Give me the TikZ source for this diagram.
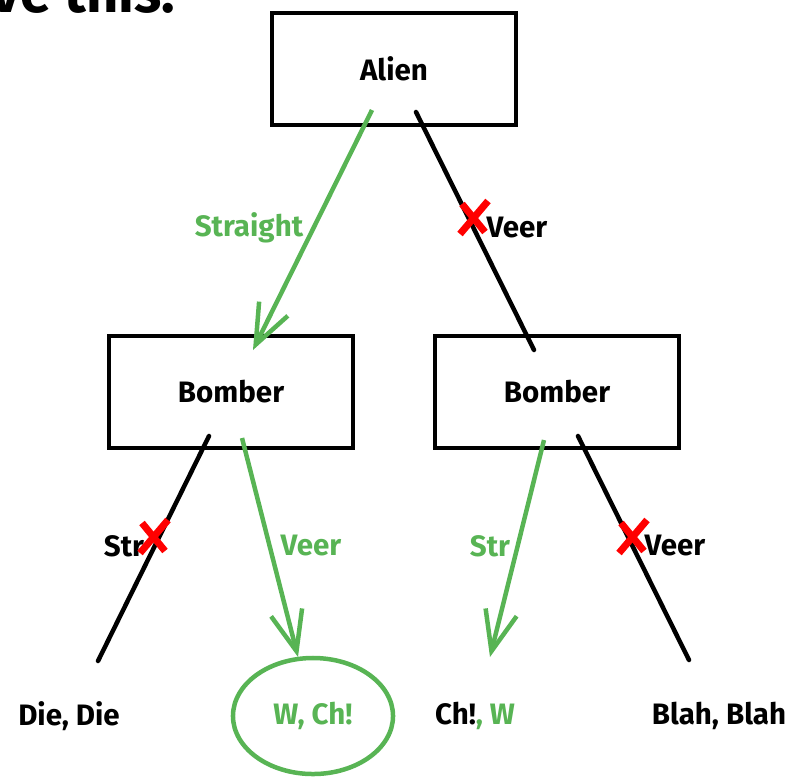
\documentclass[tikz,border=0pt]{standalone}
\usepackage{fontspec}
\setmainfont{Fira Sans}
\usepackage{tikz}
\usetikzlibrary{arrows.meta,shapes.geometric,calc}

\definecolor{okgreen}{RGB}{88,180,84}
\definecolor{nored}{RGB}{255,0,0}

\tikzset{
  choice/.style={draw, line width=3.2pt, minimum width=6.1cm, minimum height=2.8cm, font=\fontsize{21}{25}\selectfont\bfseries},
  lbl/.style={font=\fontsize{21}{25}\selectfont\bfseries},
  good/.style={okgreen, line width=3.2pt, -{Straight Barb[length=1cm,width=0.8cm,line width=3.2pt]}},
  bad/.style={black, line width=3.2pt, line cap=round},
}
\newcommand{\nocross}[1]{\draw[nored, line width=5pt] ($#1+(-11,-14)$) -- ($#1+(12,14)$);
  \draw[nored, line width=5pt] ($#1+(-13,16)$) -- ($#1+(15,-17)$);}

\begin{document}
\begin{tikzpicture}[x=0.025cm, y=-0.025cm]
\useasboundingbox (0,0) rectangle (788,778);
\begin{scope}
\clip (0,0) rectangle (788,778);
\node[anchor=base east, font=\fontsize{40}{46}\selectfont\bfseries] (title) at (180,12) {ve this:};
\end{scope}

% boxes
\node[choice] (alien) at (394,69) {Alien};
\node[choice] (bomberA) at (231,392) {Bomber};
\node[choice] (bomberB) at (557,392) {Bomber};

% outcomes
\node[lbl] (dieDie) at (69,716) {Die, Die};
\node[lbl, text=okgreen, draw=okgreen, line width=3.2pt, ellipse, minimum width=4cm, minimum height=2.9cm] (wCh) at (313,716) {W, Ch!};
\node[lbl] (chW) at (475,716) {Ch!\textcolor{okgreen}{, W}};
\node[lbl] (blahBlah) at (719,716) {Blah, Blah};

% end points
\coordinate (a1) at (372,110); \coordinate (a2) at (253,350);
\coordinate (b1) at (416,112); \coordinate (b2) at (534,350);
\coordinate (c1) at (209,436); \coordinate (c2) at (98,661);
\coordinate (d1) at (242,438); \coordinate (d2) at (298,657);
\coordinate (e1) at (544,440); \coordinate (e2) at (490,657);
\coordinate (f1) at (578,436); \coordinate (f2) at (689,660);

\draw[good] (a1) -- (a2);
\draw[bad] (b1) -- (b2);
\draw[bad] (c1) -- (c2);
\draw[good] (d1) -- (d2);
\draw[good] (e1) -- (e2);
\draw[bad] (f1) -- (f2);

% labels
\node[lbl, text=okgreen] (straight) at (249,228) {Straight};
\node[lbl] (veerA) at (517,228) {Veer};
\node[lbl] (strA) at (124,546) {Str};
\node[lbl, text=okgreen] (veerB) at (311,546) {Veer};
\node[lbl, text=okgreen] (strB) at (490,546) {Str};
\node[lbl] (veerC) at (675,546) {Veer};

\nocross{(473,218)}
\nocross{(153,537)}
\nocross{(632,537)}
\end{tikzpicture}
\end{document}
